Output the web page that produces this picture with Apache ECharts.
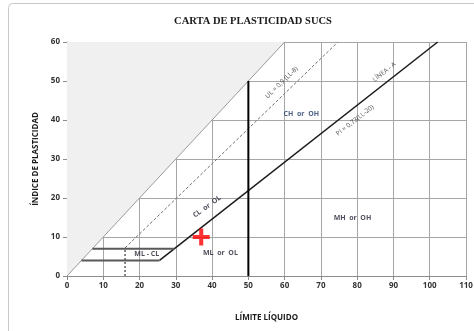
<!DOCTYPE html>
<html>
<head>
<meta charset="utf-8">
<script src="https://cdn.jsdelivr.net/npm/echarts@6/dist/echarts.min.js"></script>
<style>
  html, body { margin: 0; padding: 0; background: #fff; }
  #chart { width: 474px; height: 331px; }
</style>
</head>
<body>
<div id="chart"></div>
<script>
// Casagrande plasticity chart (LL on x, PI on y)
const xTicks = [0, 10, 20, 30, 40, 50, 60, 70, 80, 90, 100, 110];
const yTicks = [0, 10, 20, 30, 40, 50, 60];

const shadedZone = [[0, 0], [60, 60], [0, 60]];
const diagonal = [[0, 0], [60, 60]];
const uLine = [[16, 7.2], [74.7, 60]];
const uFoot = [[16, 0], [16, 7.2]];
const aLine = [[25.5, 4], [102.2, 60]];
const bandLow = [[4, 4], [25.5, 4]];
const bandHigh = [[7, 7], [29.6, 7]];
const llFifty = [[50, 0], [50, 50]];
const sample = [[37, 10]];

const zoneLabels = [
  ['ML - CL', 22, 5.6],
  ['ML  or  OL', 42.3, 5.9],
  ['CL  or  OL', 38.6, 17.8],
  ['CH  or  OH', 64.6, 41.6],
  ['MH  or  OH', 78.7, 14.8]
];
const lineLabels = [
  ['UL = 0,9 (LL-8)', 59.2, 49.6, 44],
  ['LÍNEA - A', 87.5, 52.3, 38],
  ['PI = 0,73(LL-20)', 79.4, 39.9, 38]
];

const chart = echarts.init(document.getElementById('chart'));

const seg = (data, color, width, type) => ({
  type: 'line',
  data: data,
  symbol: 'none',
  silent: true,
  lineStyle: { color: color, width: width, type: type || 'solid' },
  z: 3
});

chart.setOption({
  animation: false,
  title: {
    text: 'CARTA DE PLASTICIDAD SUCS',
    left: 248,
    textAlign: 'center',
    top: 11,
    textStyle: { fontFamily: 'Liberation Serif', fontSize: 10.5, fontWeight: 'bold', color: '#1a1a1a' }
  },
  graphic: [{
    type: 'rect',
    shape: { x: 8.5, y: 3.5, width: 480, height: 340, r: 4 },
    style: { fill: 'none', stroke: '#c8c8c8', lineWidth: 1 },
    silent: true,
    z: -10
  }],
  grid: { left: 67, right: 8, top: 42, bottom: 55, outerBoundsMode: 'none' },
  xAxis: {
    type: 'value', min: 0, max: 110, interval: 10,
    name: 'LÍMITE LÍQUIDO', nameLocation: 'middle', nameGap: 38,
    nameTextStyle: { fontFamily: 'Open Sans', fontSize: 8, fontWeight: 'bold', color: '#1a1a1a' },
    axisLine: { show: true, lineStyle: { color: '#8c8c8c' } },
    axisTick: { show: true, length: 4, lineStyle: { color: '#8c8c8c' } },
    axisLabel: { fontFamily: 'Open Sans', fontSize: 8, fontWeight: 'bold', color: '#333', margin: 6,
      formatter: v => xTicks.includes(v) ? String(v) : '' },
    splitLine: { show: true, lineStyle: { color: '#a6a6a6', width: 1 } }
  },
  yAxis: {
    type: 'value', min: 0, max: 60, interval: 10,
    name: 'ÍNDICE DE PLASTICIDAD', nameLocation: 'middle', nameGap: 27,
    nameTextStyle: { fontFamily: 'Open Sans', fontSize: 8, fontWeight: 'bold', color: '#1a1a1a' },
    axisLine: { show: true, lineStyle: { color: '#8c8c8c' } },
    axisTick: { show: true, length: 4, lineStyle: { color: '#8c8c8c' } },
    axisLabel: { fontFamily: 'Open Sans', fontSize: 8, fontWeight: 'bold', color: '#333', margin: 7,
      formatter: v => yTicks.includes(v) ? String(v) : '' },
    splitLine: { show: true, lineStyle: { color: '#a6a6a6', width: 1 } }
  },
  series: [
    {
      type: 'custom',
      silent: true,
      z: 1,
      renderItem: (params, api) => ({
        type: 'polygon',
        shape: { points: shadedZone.map(p => api.coord(p)) },
        style: { fill: '#f0f0f0', stroke: 'none' }
      }),
      data: [0]
    },
    seg(diagonal, '#9a9a9a', 1),
    seg(uLine, '#6e6e6e', 1, [3, 2]),
    seg(uFoot, '#111', 1, [2, 2]),
    seg(aLine, '#1a1a1a', 1.5),
    seg(bandLow, '#595959', 2),
    seg(bandHigh, '#595959', 2),
    seg(llFifty, '#000', 2),
    {
      type: 'scatter',
      data: sample,
      symbol: 'path://M3.8,0H6.2V3.8H10V6.2H6.2V10H3.8V6.2H0V3.8H3.8Z',
      symbolSize: 17,
      itemStyle: { color: '#ff0000' },
      z: 6
    },
    {
      type: 'scatter',
      symbolSize: 0,
      silent: true,
      z: 5,
      data: zoneLabels.map(([t, x, y]) => ({
        value: [x, y],
        label: {
          show: true, position: 'inside', formatter: t,
          rotate: t.startsWith('CL') ? 36 : 0,
          fontFamily: 'Open Sans', fontSize: 7, fontWeight: 'bold',
          color: t.startsWith('CH') ? '#1f3864' : '#1e1e30'
        }
      }))
    },
    {
      type: 'scatter',
      symbolSize: 0,
      silent: true,
      z: 5,
      data: lineLabels.map(([t, x, y, r]) => ({
        value: [x, y],
        label: {
          show: true, position: 'inside', formatter: t, rotate: r,
          fontFamily: 'Open Sans', fontSize: 6.5, color: '#1a1a1a'
        }
      }))
    }
  ]
});
</script>
</body>
</html>
